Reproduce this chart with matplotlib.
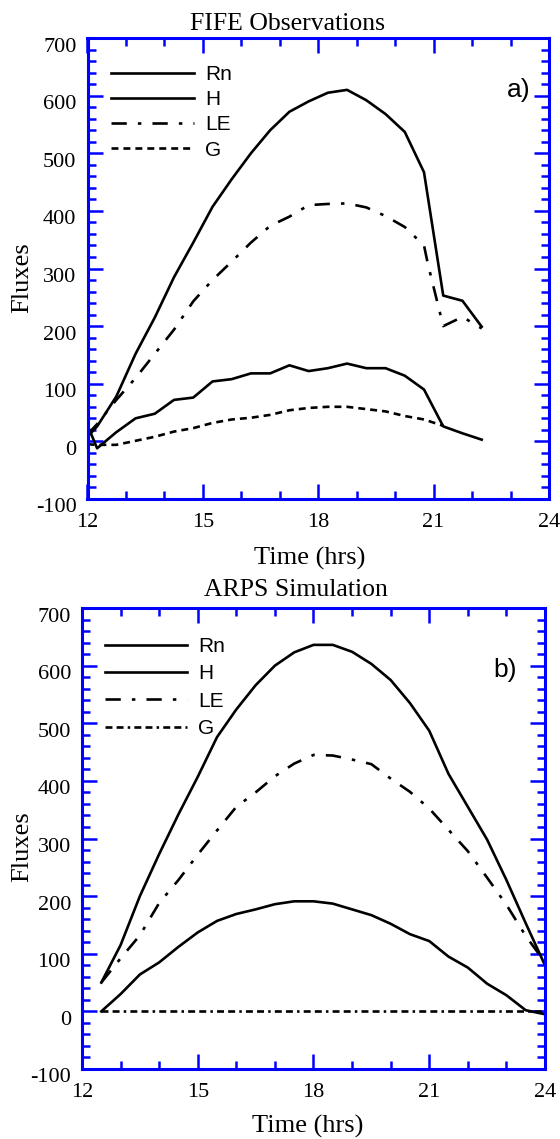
import matplotlib
matplotlib.use("Agg")
import matplotlib.pyplot as plt
import matplotlib.transforms as mtransforms
from matplotlib.ticker import MultipleLocator

plt.rcParams['lines.scale_dashes'] = False
plt.rcParams['axes.unicode_minus'] = False
plt.rcParams['font.family'] = 'Liberation Serif'

# --- FIFE observations (half-hourly, local time) ---
obs_time = [12.0, 12.25, 12.75, 13.25, 13.75, 14.25, 14.75, 15.25, 15.75, 16.25, 16.75,
            17.25, 17.75, 18.25, 18.75, 19.25, 19.75, 20.25, 20.75, 21.25, 21.75, 22.25]
obs_rn = [8, 26, 78, 152, 215, 285, 345, 407, 455, 500, 540,
          572, 590, 605, 610, 592, 568, 537, 467, 253, 244, 199]
obs_h = [28, -12, 16, 40, 48, 72, 76, 104, 108, 118, 118,
         132, 122, 127, 135, 127, 127, 114, 90, 26, 14, 3]

obs_le_time = [12.0, 12.25, 12.75, 13.25, 13.75, 14.25, 14.75, 15.25, 15.75, 16.25, 16.75,
               17.25, 17.75, 18.25, 18.75, 19.25, 19.75, 20.25, 20.75, 20.85, 21.25, 21.75, 22.25]
obs_le = [12, 30, 72, 110, 152, 194, 243, 280, 312, 345, 374,
          390, 410, 412, 413, 406, 391, 372, 340, 308, 200, 216, 196]

obs_g_time = [12.0, 12.25, 12.75, 13.25, 13.75, 14.25, 14.75, 15.25, 15.75, 16.25, 16.75,
              17.25, 17.75, 18.25, 18.75, 19.25, 19.75, 20.25, 20.75, 21.25]
obs_g = [-5, -6, -6, 1, 8, 17, 23, 32, 38, 41, 46,
         54, 58, 60, 60, 56, 52, 44, 38, 27]

# --- ARPS simulation ---
arps_time = [12.5, 13.0, 13.5, 14.0, 14.5, 15.0, 15.5, 16.0, 16.5, 17.0, 17.5, 18.0,
             18.5, 19.0, 19.5, 20.0, 20.5, 21.0, 21.5, 22.0, 22.5, 23.0, 23.5, 24.0]
arps_rn = [50, 115, 200, 273, 342, 407, 476, 524, 566, 600, 623, 636,
           636, 624, 603, 575, 535, 487, 412, 355, 298, 228, 153, 80]
arps_h = [0, 30, 64, 85, 112, 137, 157, 169, 177, 186, 191, 191,
          187, 177, 167, 152, 134, 122, 95, 76, 48, 28, 2, -5]
arps_le = [50, 92, 132, 188, 228, 272, 314, 355, 380, 408, 430, 445,
           444, 437, 429, 404, 381, 352, 315, 278, 232, 185, 131, 85]
arps_g = [0, 0, 0, 0, 0, 0, 0, 0, 0, 0, 0, 0,
          0, 0, 0, 0, 0, 0, 0, 0, 0, 0, 0, 0]

labels = ["Rn", "H", "LE", "G"]

BLUE = '#0000ff'
LW = 1.9
le_dash = (0, (11, 8, 2.5, 8))
g_obs_dash = (0, (5, 3.6))
g_arps_dash = (0, (5, 3, 5, 3, 1.8, 3))

W, H = 560, 1139
fig = plt.figure(figsize=(W / 100, H / 100), dpi=100)


def frame(ax):
    ax.set_xlim(12, 24)
    ax.set_ylim(-100, 700)
    ax.xaxis.set_major_locator(MultipleLocator(3))
    ax.xaxis.set_minor_locator(MultipleLocator(1))
    ax.yaxis.set_major_locator(MultipleLocator(100))
    ax.yaxis.set_minor_locator(MultipleLocator(20))
    for s in ax.spines.values():
        s.set_color(BLUE)
        s.set_linewidth(2.2)
    ax.tick_params(which='both', direction='in', color=BLUE, width=1.8,
                   top=True, right=True, labelsize=16)
    ax.tick_params(axis='x', pad=10)
    ax.tick_params(axis='y', pad=8)
    ax.tick_params(which='major', length=11)
    ax.tick_params(which='minor', length=5.5)
    ax.set_xticks([12, 15, 18, 21, 24])
    ax.set_yticks(range(-100, 701, 100))
    # y labels sit a little below their ticks
    off = mtransforms.ScaledTranslation(0, -6.5 / 100, fig.dpi_scale_trans)
    for lbl in ax.get_yticklabels():
        lbl.set_transform(lbl.get_transform() + off)


def legend(ax, handles, x0, y0, spacing, hlen):
    leg = ax.legend(handles, labels, loc='upper left', bbox_to_anchor=(x0, y0),
                    frameon=False, borderpad=0, borderaxespad=0,
                    handlelength=hlen, handletextpad=0.55, labelspacing=spacing,
                    prop={'family': 'Liberation Sans', 'size': 15})
    return leg


# top panel: observations
ax1 = fig.add_axes([87.5 / W, 1 - 499 / H, 461.5 / W, 461 / H])
frame(ax1)
l1, = ax1.plot(obs_time, obs_rn, color='k', lw=LW)
l2, = ax1.plot(obs_time, obs_h, color='k', lw=LW)
l3, = ax1.plot(obs_le_time, obs_le, color='k', lw=LW, linestyle=le_dash)
l4, = ax1.plot(obs_g_time, obs_g, color='k', lw=LW, linestyle=g_obs_dash)
legend(ax1, [l1, l2, l3, l4], 23 / 461.5, 1 - 27 / 461, 0.3, 4.0)

# bottom panel: simulation
ax2 = fig.add_axes([82 / W, 1 - 1069 / H, 463 / W, 461 / H])
frame(ax2)
m1, = ax2.plot(arps_time, arps_rn, color='k', lw=LW)
m2, = ax2.plot(arps_time, arps_h, color='k', lw=LW)
m3, = ax2.plot(arps_time, arps_le, color='k', lw=LW, linestyle=le_dash)
m4, = ax2.plot(arps_time, arps_g, color='k', lw=LW, linestyle=g_arps_dash)
legend(ax2, [m1, m2, m3, m4], 23.4 / 463, 1 - 29 / 461, 0.4, 3.9)

# titles, axis labels and panel tags
fig.text(288 / W, 1 - 29.5 / H, "FIFE Observations", ha='center', va='baseline', fontsize=18.5)
fig.text(296 / W, 1 - 596.5 / H, "ARPS Simulation", ha='center', va='baseline', fontsize=18.5)
fig.text(310 / W, 1 - 565 / H, "Time (hrs)", ha='center', va='baseline', fontsize=19)
fig.text(308 / W, 1 - 1132.5 / H, "Time (hrs)", ha='center', va='baseline', fontsize=19)
fig.text(22 / W, 1 - 278 / H, "Fluxes", rotation=90, ha='center', va='center', fontsize=19)
fig.text(22 / W, 1 - 847 / H, "Fluxes", rotation=90, ha='center', va='center', fontsize=19)
fig.text(519 / W, 1 - 90 / H, "a)", ha='center', va='center', fontsize=19, family='Liberation Sans')
fig.text(505 / W, 1 - 670 / H, "b)", ha='center', va='center', fontsize=19, family='Liberation Sans')

fig.savefig("out.png", dpi=100)
